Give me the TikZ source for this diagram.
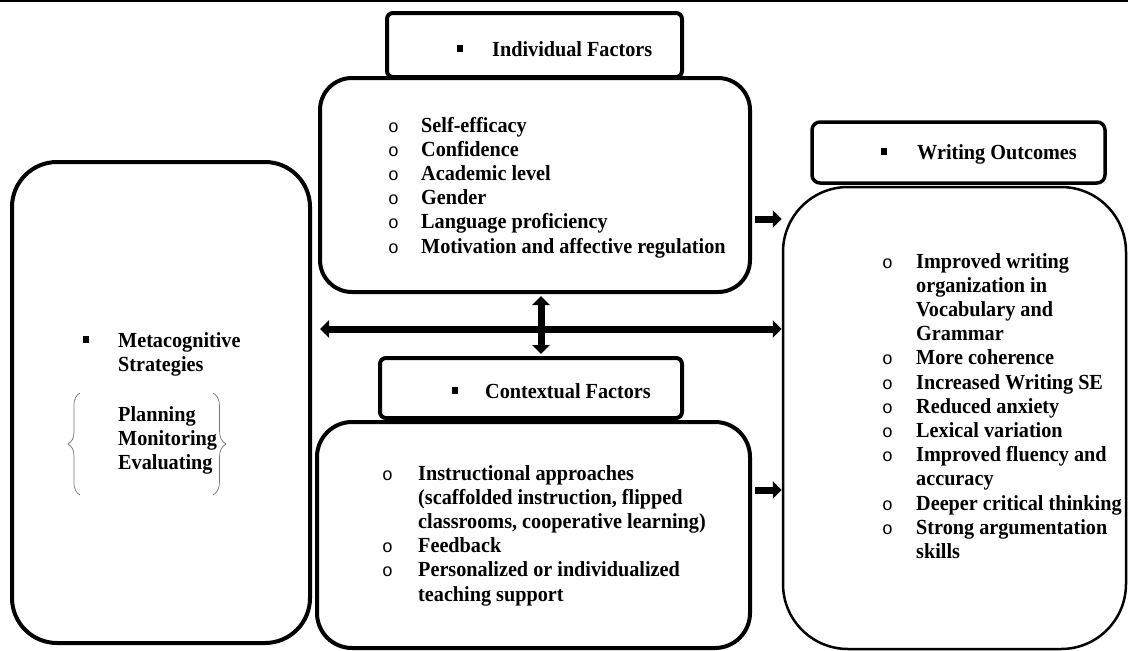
\documentclass[tikz,border=0pt]{standalone}
\usepackage{fontspec}
\setmainfont[FakeStretch=0.94]{Liberation Serif}
\newfontfamily\monof{Liberation Mono}
\usetikzlibrary{arrows.meta,decorations.pathreplacing}
\newcommand{\sqb}{\rule[4pt]{6pt}{7pt}}
\newcommand{\cbul}[1]{\hbox to #1{\monof\mdseries\fontsize{18}{18}\selectfont\kern1pt o\hss}}
\tikzset{
  box/.style={draw, line width=4pt, inner sep=0pt, rounded corners=#1},
  txt/.style={inner sep=0pt, anchor=base west, font=\fontsize{21.5}{24.2}\selectfont\bfseries},
  arr/.style={line width=7pt, -{Triangle[length=9pt,width=17pt]}},
  darr/.style={line width=7pt, {Triangle[length=9pt,width=17pt]}-{Triangle[length=9pt,width=17pt]}},
  brc/.style={draw=black!55, line width=0.7pt, decorate, decoration={brace, amplitude=#1}}
}
\begin{document}
\begin{tikzpicture}[x=1pt,y=-1pt]
\useasboundingbox (0,0) rectangle (1128,651);
\fill[white] (0,0) rectangle (1128,651);
\draw[line width=2.5pt] (0,1) -- (1128,1);

% boxes
\node[box=45pt, minimum width=298pt, minimum height=481pt] (meta) at (161,402.5) {};
\node[box=6pt, minimum width=295pt, minimum height=64pt] (indtab) at (534.5,45) {};
\node[box=32pt, minimum width=430pt, minimum height=214pt] (ind) at (535,185) {};
\node[box=6pt, minimum width=302pt, minimum height=60pt] (ctxtab) at (531,388) {};
\node[box=35pt, minimum width=433pt, minimum height=226pt] (ctx) at (533.5,535) {};
\node[box=8pt, line width=3.5pt, minimum width=293pt, minimum height=61pt] (wotab) at (958.5,152.5) {};
\node[box=65pt, line width=2.5pt, minimum width=343pt, minimum height=462pt] (wo) at (954.5,418) {};

% tab labels
\node[txt] (indtabtxt) at (457,56) {\makebox[35pt][l]{\sqb}Individual Factors};
\node[txt] (wotabtxt) at (881,159) {\makebox[36pt][l]{\sqb}Writing Outcomes};
\node[txt] (ctxtabtxt) at (452,398) {\makebox[33pt][l]{\sqb}Contextual Factors};

% metacognitive
\node[txt] (metatxt) at (83,347) {\begin{tabular}[t]{@{}l@{}}\makebox[35pt][l]{\sqb}Metacognitive\\\hspace*{35pt}Strategies\end{tabular}};
\node[txt] (pme) at (118,421) {\begin{tabular}[t]{@{}l@{}}Planning\\Monitoring\\Evaluating\end{tabular}};
\draw[brc=12pt] (80,495) -- (80,393);
\draw[brc=13pt] (213,393) -- (213,495);

% lists
\node[txt] (indlist) at (387,132) {\begin{tabular}[t]{@{}l@{}l@{}}
\cbul{34pt}&Self-efficacy\\
\cbul{34pt}&Confidence\\
\cbul{34pt}&Academic level\\
\cbul{34pt}&Gender\\
\cbul{34pt}&Language proficiency\\
\cbul{34pt}&Motivation and affective regulation
\end{tabular}};

\node[txt] (wolist) at (881,268) {\begin{tabular}[t]{@{}l@{}l@{}}
\cbul{35pt}&Improved writing\\
&organization in\\
&Vocabulary and\\
&Grammar\\
\cbul{35pt}&More coherence\\
\cbul{35pt}&Increased Writing SE\\
\cbul{35pt}&Reduced anxiety\\
\cbul{35pt}&Lexical variation\\
\cbul{35pt}&Improved fluency and\\
&accuracy\\
\cbul{35pt}&Deeper critical thinking\\
\cbul{35pt}&Strong argumentation\\
&skills
\end{tabular}};

\node[txt] (ctxlist) at (381,480) {\begin{tabular}[t]{@{}l@{}l@{}}
\cbul{37pt}&Instructional approaches\\
&(scaffolded instruction, flipped\\
&classrooms, cooperative learning)\\
\cbul{37pt}&Feedback\\
\cbul{37pt}&Personalized or individualized\\
&teaching support
\end{tabular}};

% arrows
\draw[arr] ([xshift=3pt,yshift=-34pt]ind.east) -- ([yshift=199pt]wo.west);
\draw[darr] ([xshift=8pt,yshift=73.5pt]meta.east) -- ([yshift=89pt]wo.west);
\draw[darr] ([xshift=6pt,yshift=-2pt]ind.south) -- ([xshift=10pt,yshift=2pt]ctxtab.north);
\draw[arr] ([xshift=3pt,yshift=45pt]ctx.east) -- ([yshift=-72pt]wo.west);
\end{tikzpicture}
\end{document}
